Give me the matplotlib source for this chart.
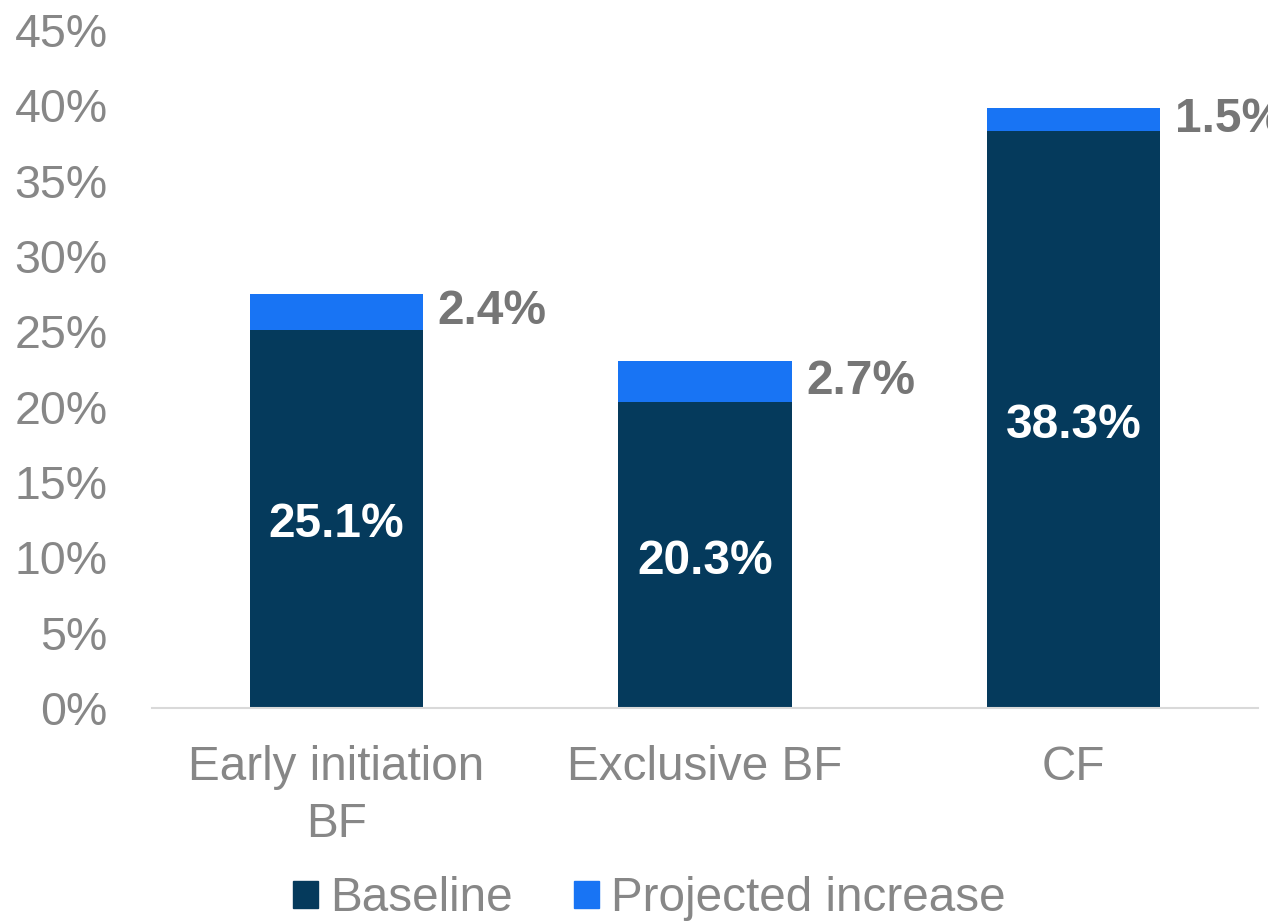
import numpy as np
import matplotlib.pyplot as plt
from matplotlib.ticker import FuncFormatter
from matplotlib.patches import Patch

# breastfeeding / complementary feeding indicators
categories = ['Early initiation\nBF', 'Exclusive BF', 'CF']
baseline = [25.1, 20.3, 38.3]
increase = [2.4, 2.7, 1.5]

navy = '#053a5c'
blue = '#1874f4'
grey = '#878787'

plt.rcParams['font.family'] = ['Liberation Sans', 'DejaVu Sans']

fig = plt.figure(figsize=(12.68, 9.21), dpi=100)
ax = fig.add_axes([0.1199, 0.2313, 0.8721, 0.7361])

x = np.arange(len(categories))
w = 0.47
ax.bar(x, baseline, w, color=navy, label='Baseline')
ax.bar(x, increase, w, bottom=baseline, color=blue, label='Projected increase')

# value labels: baseline inside, increase to the right of the bar
for i in range(len(categories)):
    ax.text(x[i], baseline[i] / 2 - 0.4, f'{baseline[i]:.1f}%', color='white',
            fontsize=34.5, fontweight='bold', ha='center', va='center')
    ax.text(x[i] + w / 2 + 0.04, baseline[i] + increase[i] / 2,
            f'{increase[i]:.1f}%', color='#767676', fontsize=34.5,
            fontweight='bold', ha='left', va='center', clip_on=False)

ax.set_xlim(-0.5, 2.5)
ax.set_ylim(0, 45)
ax.set_yticks(np.arange(0, 46, 5))
ax.yaxis.set_major_formatter(FuncFormatter(lambda v, p: f'{v:.0f}%'))
ax.set_xticks(x)
ax.set_xticklabels(categories, linespacing=1.33)

ax.tick_params(axis='y', length=0, pad=32, labelsize=33.5, labelcolor=grey)
ax.tick_params(axis='x', length=0, pad=27, labelsize=34.3, labelcolor=grey)

for s in ['top', 'right', 'left']:
    ax.spines[s].set_visible(False)
ax.spines['bottom'].set_color('#d9d9d9')
ax.spines['bottom'].set_linewidth(1.5)

handles = [Patch(color=navy), Patch(color=blue)]
fig.legend(handles, ['Baseline', 'Projected increase'], loc='center',
           bbox_to_anchor=(0.512, 0.024), ncol=2, frameon=False,
           fontsize=34.3, labelcolor=grey, handlelength=0.52, handleheight=0.52,
           handletextpad=0.25, columnspacing=1.3)

fig.savefig('out.png', dpi=100)
